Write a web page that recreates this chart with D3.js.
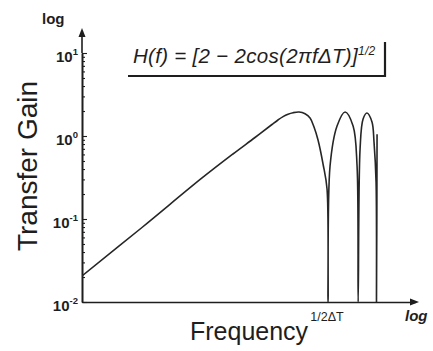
<!DOCTYPE html>
<html>
<head>
<meta charset="utf-8">
<script src="https://cdn.jsdelivr.net/npm/d3@7"></script>
<style>
  html, body { margin: 0; padding: 0; background: #fff; }
  svg { display: block; font-family: "Liberation Sans", Arial, Helvetica, sans-serif; }
</style>
</head>
<body>
<svg id="chart" width="433" height="351"></svg>
<script>
// Frequency in units of f*2ΔT (1 = the "1/2ΔT" mark)
const frequency = [0.00347, 0.0138, 0.055, 0.112, 0.186, 0.275, 0.316, 0.355, 0.398, 0.447, 0.513,
                   0.589, 0.661, 0.724, 0.794, 0.891, 0.977, 1.0,
                   1.047, 1.23, 1.48, 1.78, 1.95, 2.0,
                   2.09, 2.24, 2.45, 2.75, 2.88, 3.02, 3.05, 3.09];
// Transfer gain (nulls drawn down to the axis floor 10^-2)
const gain = [0.0206, 0.079, 0.312, 0.607, 0.959, 1.376, 1.559, 1.713, 1.831, 1.909, 1.946,
              1.853, 1.647, 1.284, 0.895, 0.46, 0.23, 0.01,
              0.435, 1.32, 1.95, 1.32, 0.435, 0.01,
              0.70, 1.60, 1.89, 1.47, 0.85, 0.28, 0.01, 1.05];
const yTickValues = [0.01, 0.1, 1, 10];
const yTickExponents = ["-2", "-1", "0", "1"];
const xTickValues = [1];
const xTickLabels = ["1/2\u0394T"];

const svg = d3.select("#chart");
const ink = "#1e1e1e";

const x = d3.scaleLog().domain([0.00347, 7.4]).range([82, 415]);
const y = d3.scaleLog().domain([0.01, 10]).range([302, 53]);

svg.append("defs").append("clipPath").attr("id", "plotclip")
  .append("rect").attr("x", x.range()[0]).attr("y", 0)
  .attr("width", x.range()[1] - x.range()[0]).attr("height", y(0.01));

// Y axis: major and minor ticks pointing inward (right)
const allY = y.ticks();
const majorY = allY.filter(v => Math.abs(Math.log10(v) - Math.round(Math.log10(v))) < 1e-9);
const minorY = allY.filter(v => !majorY.includes(v));

const yAxisG = svg.append("g").attr("transform", "translate(82,0)");
yAxisG.call(d3.axisLeft(y).tickValues(minorY).tickSize(-3).tickSizeOuter(0).tickFormat(""));
yAxisG.append("g").call(d3.axisLeft(y).tickValues(majorY).tickSize(-5).tickSizeOuter(0).tickFormat(""));
yAxisG.selectAll("path.domain").attr("stroke", ink).attr("stroke-width", 1.6);
yAxisG.selectAll(".tick line").attr("stroke", ink).attr("stroke-width", 1.1);
yAxisG.append("line").attr("x1", 0).attr("x2", 0).attr("y1", y(10)).attr("y2", 34)
  .attr("stroke", ink).attr("stroke-width", 1.6);
yAxisG.append("path").attr("d", "M0,28 L-3.5,37 L3.5,37 Z").attr("fill", ink);

// Y tick labels 10^n
yTickValues.forEach((v, i) => {
  const t = svg.append("text")
    .attr("x", 78).attr("y", y(v) + 9)
    .attr("text-anchor", "end")
    .attr("fill", ink)
    .attr("font-size", 15)
    .attr("font-weight", "bold");
  t.append("tspan").text("10");
  t.append("tspan").attr("dy", -7).attr("font-size", 9.5).text(yTickExponents[i]);
});

// X axis
const xAxisG = svg.append("g").attr("transform", `translate(0,${y(0.01)})`);
xAxisG.call(d3.axisBottom(x).tickValues([]).tickSizeOuter(0));
xAxisG.select("path.domain").attr("stroke", ink).attr("stroke-width", 1.6);
xAxisG.append("line").attr("x1", x.range()[1]).attr("x2", 412).attr("y1", 0).attr("y2", 0)
  .attr("stroke", ink).attr("stroke-width", 1.6);
xAxisG.append("path").attr("d", "M419,0 L410,-3.5 L410,3.5 Z").attr("fill", ink);

xTickValues.forEach((v, i) => {
  svg.append("text")
    .attr("x", x(v) - 1).attr("y", 321)
    .attr("text-anchor", "middle")
    .attr("fill", ink)
    .attr("font-size", 12.5)
    .text(xTickLabels[i]);
});

// Curve
const pts = frequency.map((f, i) => [x(f), y(gain[i])]);
svg.append("path")
  .datum(pts)
  .attr("clip-path", "url(#plotclip)")
  .attr("fill", "none")
  .attr("stroke", "#262626")
  .attr("stroke-width", 1.6)
  .attr("stroke-linejoin", "round")
  .attr("d", d3.line().curve(d3.curveCatmullRom.alpha(0.5)));

// Axis "log" labels
svg.append("text").attr("x", 42).attr("y", 24).attr("font-size", 15).attr("font-weight", "bold")
  .attr("fill", ink).text("log");
svg.append("text").attr("x", 405).attr("y", 321).attr("font-size", 15).attr("font-weight", "bold")
  .attr("font-style", "italic").attr("fill", ink).text("log");

// Axis titles
svg.append("text")
  .attr("transform", "translate(37,166) rotate(-90)")
  .attr("text-anchor", "middle")
  .attr("font-size", 28)
  .attr("fill", ink)
  .text("Transfer Gain");
svg.append("text")
  .attr("x", 190).attr("y", 340)
  .attr("font-size", 25)
  .attr("fill", ink)
  .text("Frequency");

// Formula box
const ft = svg.append("text")
  .attr("x", 133).attr("y", 63)
  .attr("font-size", 20.5)
  .attr("letter-spacing", 0.3)
  .attr("font-style", "italic")
  .attr("fill", ink);
ft.append("tspan").text("H(f) = [2 \u2212 2cos(2\u03c0f\u0394T)]");
ft.append("tspan").attr("dy", -8).attr("font-size", 12).text("1/2");

svg.append("path")
  .attr("d", "M128,76 L385,76 L385,42")
  .attr("fill", "none")
  .attr("stroke", ink)
  .attr("stroke-width", 2.2);
</script>
</body>
</html>
